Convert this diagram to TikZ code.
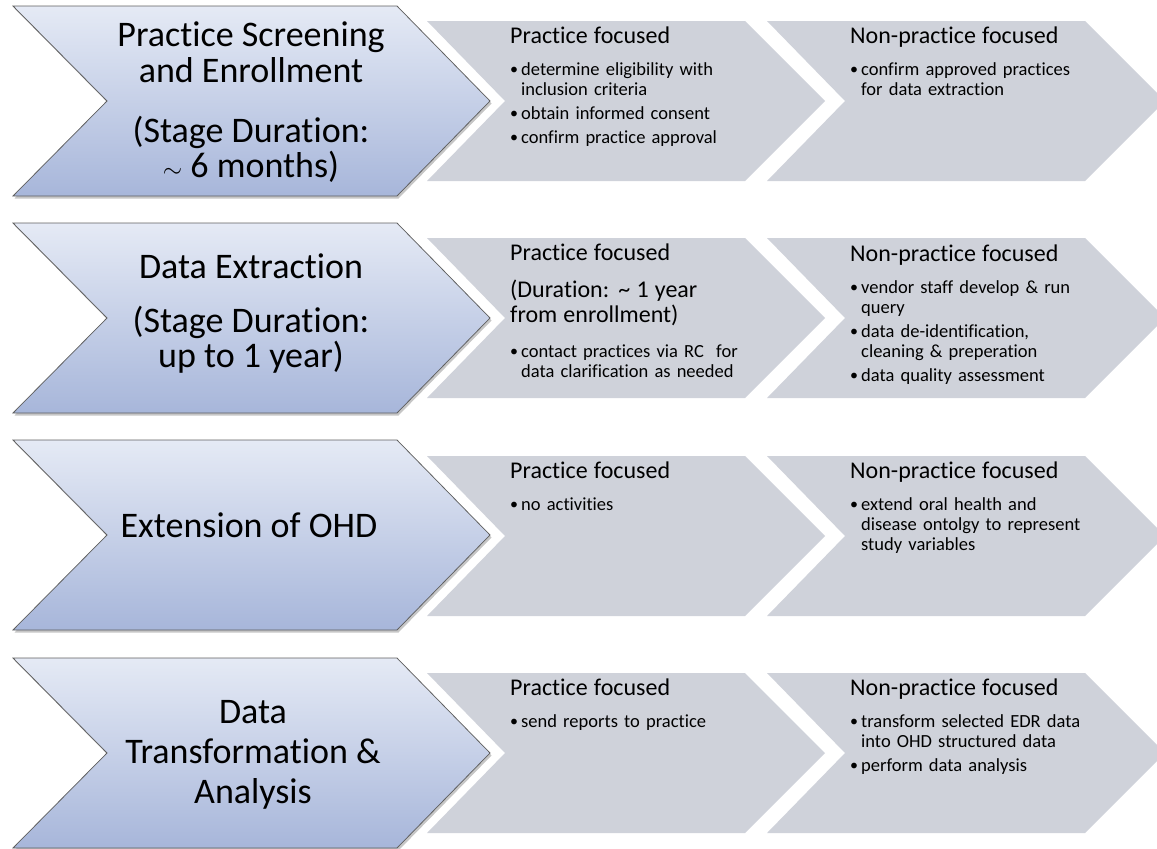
\documentclass[tikz,border=0pt]{standalone}
\usepackage{fontspec}
\setmainfont[Ligatures={TeX,CommonOff}]{Carlito}
\usetikzlibrary{shadows}

\newlength{\du}
\setlength{\du}{1pt}

\definecolor{stagetopcolor}{RGB}{229,234,245}
\definecolor{stagebotcolor}{RGB}{167,182,218}
\definecolor{stagelinecolor}{RGB}{95,95,95}
\definecolor{focusfillcolor}{RGB}{207,210,218}

\newcommand{\focushead}[1]{{\fontsize{24}{25}\selectfont #1\par}\vspace{8\du}}
\newcommand{\focusitem}[1]{\par\vspace{4\du}\hangindent=11\du\hangafter=1\noindent\makebox[11\du][l]{\raisebox{0.5\du}{\fontsize{16}{16}\selectfont\textbullet}}#1\par}

\begin{document}
\begin{tikzpicture}[x=\du,y=-\du,
  stagearrow/.style={draw=stagelinecolor,line width=0.75\du,line join=miter,
    top color=stagetopcolor,bottom color=stagebotcolor,
    drop shadow={shadow xshift=1.5\du,shadow yshift=-2.5\du,opacity=0.45}},
  focusarrow/.style={fill=focusfillcolor,draw=none},
  stagetext/.style={anchor=base,align=center,inner sep=0pt,
    font=\fontsize{36}{35.5}\selectfont},
  focustext/.style={anchor=base west,text width=300\du,align=left,inner sep=0pt,
    font=\fontsize{18.5}{20}\selectfont}]
\useasboundingbox (0,0) rectangle (1157,849);

% stage 1
\path[stagearrow] (13,6)--(397,6)--(490,101)--(397,196)--(13,196)--(107,101)--cycle;
\path[focusarrow] (427,21)--(745,21)--(825,101)--(745,181)--(427,181)--(505,101)--cycle;
\path[focusarrow] (767,21)--(1085,21)--(1165,101)--(1085,181)--(767,181)--(845,101)--cycle;
% base anchor sits on the last line
\node[stagetext] (screening) at (251,177.5) {Practice Screening\\and Enrollment\\[24.5\du](Stage Duration:\\$\sim$ 6 months)};
\node[focustext] (screeningprac) at (510,43) {\focushead{Practice focused}%
  \focusitem{determine eligibility with\newline inclusion criteria}%
  \focusitem{obtain informed consent}%
  \focusitem{confirm practice approval}};
\node[focustext] (screeningnonprac) at (850,43) {\focushead{Non-practice focused}%
  \focusitem{confirm approved practices\newline for data extraction}};

% stage 2
\path[stagearrow] (13,223)--(397,223)--(490,318)--(397,413)--(13,413)--(107,318)--cycle;
\path[focusarrow] (427,238)--(745,238)--(825,318)--(745,398)--(427,398)--(505,318)--cycle;
\path[focusarrow] (767,238)--(1085,238)--(1165,318)--(1085,398)--(767,398)--(845,318)--cycle;
\node[stagetext,font=\fontsize{36}{35}\selectfont] (extraction) at (251,367) {Data Extraction\\[19\du](Stage Duration:\\up to 1 year)};
\node[focustext] (extractionprac) at (510,260) {{\fontsize{24}{25}\selectfont Practice focused\par}\vspace{12\du}%
  {\fontsize{24}{25}\selectfont (Duration: \textasciitilde{} 1 year\newline from enrollment)\par}\vspace{11\du}%
  \focusitem{contact practices via RC\ \ for\newline data clarification as needed}};
\node[focustext] (extractionnonprac) at (850,261) {\focushead{Non-practice focused}%
  \focusitem{vendor staff develop \& run\newline query}%
  \focusitem{data de-identification,\newline cleaning \& preperation}%
  \focusitem{data quality assessment}};

% stage 3
\path[stagearrow] (13,440)--(397,440)--(490,535)--(397,630)--(13,630)--(107,535)--cycle;
\path[focusarrow] (427,456)--(745,456)--(825,536)--(745,616)--(427,616)--(505,536)--cycle;
\path[focusarrow] (767,456)--(1085,456)--(1165,536)--(1085,616)--(767,616)--(845,536)--cycle;
\node[stagetext] (extension) at (249,537) {Extension of OHD};
\node[focustext] (extensionprac) at (510,478) {\focushead{Practice focused}%
  \focusitem{no activities}};
\node[focustext] (extensionnonprac) at (850,478) {\focushead{Non-practice focused}%
  \focusitem{extend oral health and\newline disease ontolgy to represent\newline study variables}};

% stage 4
\path[stagearrow] (13,658)--(397,658)--(490,753)--(397,848)--(13,848)--(107,753)--cycle;
\path[focusarrow] (427,673)--(745,673)--(825,753)--(745,833)--(427,833)--(505,753)--cycle;
\path[focusarrow] (767,673)--(1085,673)--(1165,753)--(1085,833)--(767,833)--(845,753)--cycle;
\node[stagetext,font=\fontsize{36}{40}\selectfont] (transformation) at (253,803) {Data\\Transformation \&\\Analysis};
\node[focustext] (transformationprac) at (510,695) {\focushead{Practice focused}%
  \focusitem{send reports to practice}};
\node[focustext] (transformationnonprac) at (850,695) {\focushead{Non-practice focused}%
  \focusitem{transform selected EDR data\newline into OHD structured data}%
  \focusitem{perform data analysis}};
\end{tikzpicture}
\end{document}
